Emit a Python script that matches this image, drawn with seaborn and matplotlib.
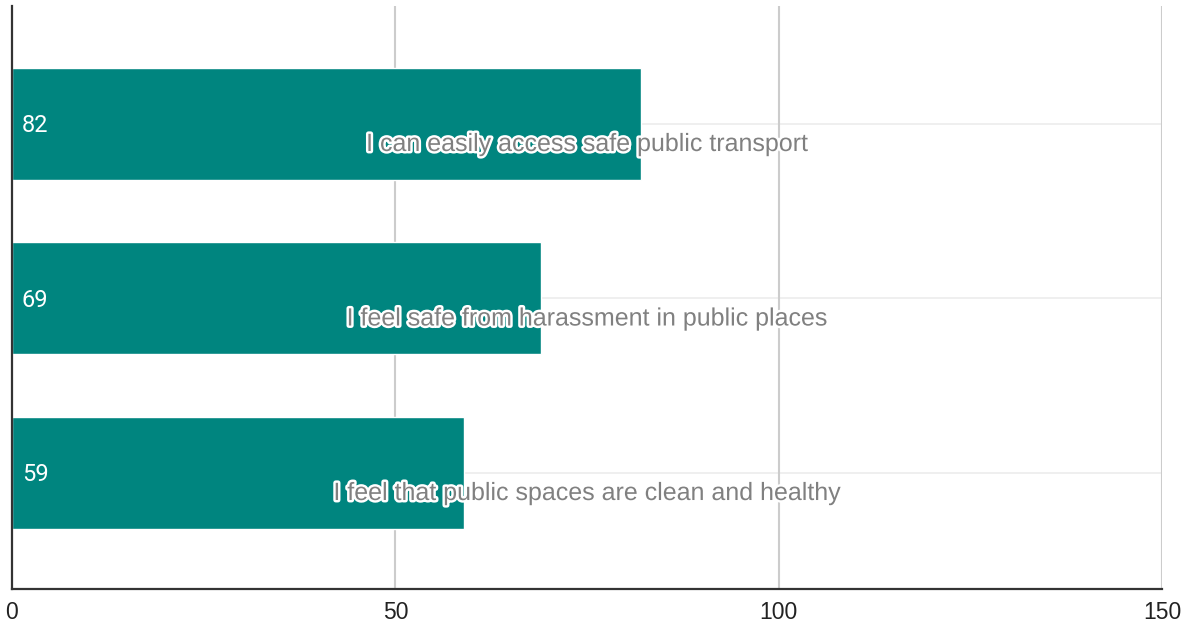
import matplotlib
matplotlib.use("Agg")
import matplotlib.pyplot as plt
import matplotlib.patheffects as pe
import seaborn as sns
import pandas as pd

categories = [
    "I can easily access safe public transport",
    "I feel safe from harassment in public places",
    "I feel that public spaces are clean and healthy",
]
values = [82, 69, 59]
x_ticks = [0, 50, 100, 150]

bar_color = "#00857f"

sns.set_theme(style="white")
plt.rcParams["font.family"] = ["Liberation Sans", "DejaVu Sans"]

df = pd.DataFrame({"category": categories, "value": values})

fig = plt.figure(figsize=(11.94, 6.29), dpi=100)
ax = fig.add_axes([0.01005, 0.0636, 0.9632, 0.9269])

# light horizontal guides through each category, vertical grid at ticks
for i in range(len(categories)):
    ax.axhline(i, color="#ececec", lw=1.2, zorder=0)
for t in x_ticks[1:]:
    ax.axvline(t, color="#cccccc", lw=1.5, zorder=0)

sns.barplot(data=df, x="value", y="category", orient="h", color=bar_color,
            width=0.642, saturation=1, ax=ax, zorder=2)

ax.set_xlim(0, 150)
ax.set_ylim(2.665, -0.676)
ax.set_xticks(x_ticks)
ax.set_xticklabels([str(t) for t in x_ticks], fontsize=16.5, color="#222222")
ax.set_yticks([])
ax.set_xlabel("")
ax.set_ylabel("")
ax.tick_params(axis="x", length=0, pad=9)

for s in ["top", "right"]:
    ax.spines[s].set_visible(False)
for s in ["left", "bottom"]:
    ax.spines[s].set_color("#333333")
    ax.spines[s].set_linewidth(1.6)
    ax.spines[s].set_zorder(3)

for i, (cat, val) in enumerate(zip(categories, values)):
    ax.text(1.3, i + 0.01, str(val), color="white", fontsize=17, ha="left",
            va="center", family=["Roboto", "DejaVu Sans"], zorder=4)
    ax.text(75, i + 0.115, cat, color="#808080", fontsize=18, ha="center",
            va="center", zorder=4,
            path_effects=[pe.withStroke(linewidth=3.5, foreground="white")])

fig.savefig("out.png", dpi=100)
